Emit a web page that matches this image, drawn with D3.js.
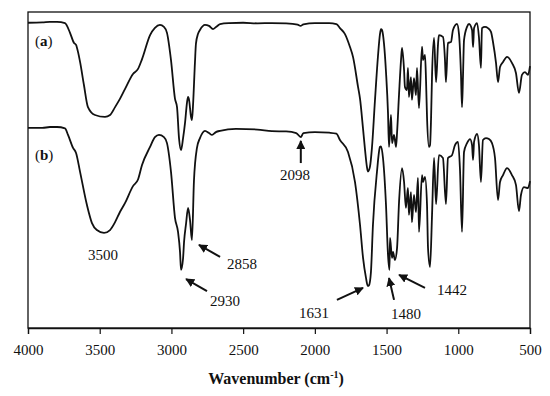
<!DOCTYPE html>
<html>
<head>
<meta charset="utf-8">
<script src="https://cdn.jsdelivr.net/npm/d3@7"></script>
<style>
  body { margin: 0; background: #fff; }
  svg text { font-family: "Liberation Serif", "DejaVu Serif", serif; fill: #111; }
</style>
</head>
<body>
<div id="chart"></div>
<script>
const W = 550, H = 396;
const margin = {top: 12, right: 20, bottom: 68, left: 28};

// wavenumber (cm-1), transmittance (arbitrary, 0-100 over plot height)
const spectrumA = [
  [4000, 96.6], [3900, 96.7], [3847, 96.9], [3798, 96.9], [3742, 96.5], [3707, 93.4],
  [3679, 90.2], [3665, 89.6], [3651, 87.3], [3637, 84.2], [3610, 76.9], [3582, 69.9],
  [3533, 67.4], [3463, 66.8], [3428, 67.4], [3393, 69.9], [3359, 72.5], [3324, 75.6],
  [3268, 80.4], [3233, 82.0], [3205, 85.1], [3149, 92.7], [3115, 95.0], [3080, 95.9],
  [3052, 95.3], [3031, 93.4], [3003, 84.8], [2975, 72.5], [2961, 69.9], [2947, 60.0],
  [2933, 56.3], [2919, 60.0], [2905, 65.0], [2891, 71.5], [2884, 73.1], [2877, 72.2],
  [2864, 67.0], [2857, 65.8], [2850, 70.0], [2836, 84.0], [2829, 90.0], [2815, 93.0],
  [2801, 94.3], [2766, 95.9], [2738, 95.6], [2710, 94.6], [2680, 95.6], [2661, 96.2],
  [2600, 96.5], [2500, 96.6], [2400, 96.4], [2300, 96.5], [2200, 96.4], [2120, 96.0],
  [2100, 95.6], [2080, 96.1], [2000, 96.5], [1900, 96.5], [1850, 96.2], [1825, 94.9],
  [1790, 93.0], [1755, 88.9], [1734, 85.8], [1699, 76.3], [1685, 72.5], [1664, 63.0],
  [1650, 56.3], [1637, 51.0], [1630, 49.5], [1616, 51.0], [1602, 57.0], [1581, 72.0],
  [1560, 86.0], [1546, 93.0], [1539, 94.6], [1532, 94.3], [1518, 90.0], [1504, 81.0],
  [1490, 68.0], [1483, 57.3], [1469, 67.4], [1462, 58.5], [1448, 61.1], [1434, 57.3],
  [1427, 61.7], [1413, 74.0], [1399, 85.0], [1392, 88.6], [1378, 81.6], [1372, 76.3],
  [1358, 75.3], [1351, 82.3], [1344, 73.1], [1330, 79.4], [1323, 72.2], [1309, 79.1],
  [1295, 73.7], [1288, 82.3], [1274, 69.6], [1253, 89.0], [1246, 84.8], [1232, 86.4],
  [1225, 78.5], [1218, 66.8], [1204, 57.3], [1197, 57.9], [1190, 66.0], [1183, 80.0],
  [1169, 91.8], [1155, 77.8], [1141, 90.0], [1135, 92.7], [1107, 92.1], [1093, 85.0],
  [1086, 77.8], [1072, 90.2], [1051, 90.5], [1037, 94.3], [1009, 96.2], [995, 93.0],
  [981, 80.0], [974, 69.9], [967, 80.0], [960, 91.1], [939, 95.3], [925, 96.2],
  [904, 94.3], [897, 88.9], [890, 94.9], [869, 96.5], [856, 92.1], [842, 82.3],
  [835, 94.9], [814, 95.3], [793, 94.9], [772, 93.7], [758, 90.5], [737, 83.9],
  [723, 77.8], [709, 82.6], [688, 84.2], [660, 85.8], [626, 83.9], [598, 80.7],
  [577, 74.4], [556, 80.1], [535, 81.0], [514, 80.1], [500, 82.9]
];

const spectrumB = [
  [4000, 63.3], [3900, 63.3], [3847, 63.6], [3798, 63.6], [3742, 63.2], [3721, 61.1],
  [3686, 57.0], [3665, 55.4], [3637, 49.4], [3589, 38.9], [3554, 33.2], [3520, 31.0],
  [3470, 30.1], [3428, 31.0], [3393, 33.5], [3359, 36.7], [3324, 39.5], [3268, 44.9],
  [3233, 47.0], [3205, 51.6], [3149, 57.3], [3115, 60.4], [3087, 61.1], [3052, 60.4],
  [3031, 58.5], [3003, 49.4], [2975, 34.8], [2954, 30.4], [2940, 24.0], [2933, 18.4],
  [2919, 22.0], [2912, 27.2], [2898, 33.0], [2884, 38.0], [2870, 34.0], [2857, 27.8],
  [2843, 46.5], [2822, 57.0], [2801, 60.1], [2766, 62.4], [2738, 61.7], [2717, 61.1],
  [2690, 62.0], [2661, 62.4], [2550, 63.0], [2400, 62.8], [2300, 62.3], [2200, 62.2],
  [2130, 61.7], [2098, 60.4], [2080, 61.7], [2000, 62.0], [1900, 61.8], [1850, 61.5],
  [1825, 59.5], [1769, 55.7], [1720, 46.2], [1685, 32.6], [1664, 22.2], [1644, 16.0],
  [1631, 13.3], [1623, 13.5], [1609, 17.7], [1595, 32.6], [1567, 49.4], [1546, 57.3],
  [1539, 57.5], [1525, 53.8], [1504, 38.9], [1490, 23.1], [1480, 18.4], [1476, 28.5],
  [1462, 22.2], [1455, 24.1], [1442, 21.5], [1427, 25.3], [1413, 39.9], [1392, 50.6],
  [1378, 46.2], [1365, 38.0], [1351, 44.3], [1344, 35.8], [1330, 43.0], [1323, 33.5],
  [1309, 42.1], [1295, 36.7], [1281, 47.5], [1274, 30.4], [1253, 48.4], [1246, 46.2],
  [1232, 47.8], [1218, 38.9], [1211, 25.3], [1197, 19.3], [1183, 35.8], [1169, 53.8],
  [1155, 39.2], [1135, 54.7], [1107, 53.8], [1086, 39.2], [1072, 53.8], [1044, 54.7],
  [1023, 57.9], [1002, 58.9], [988, 50.0], [974, 30.4], [960, 55.7], [939, 58.5],
  [918, 59.8], [904, 57.9], [897, 53.2], [890, 58.9], [869, 61.4], [856, 57.9],
  [842, 46.2], [828, 59.5], [807, 60.1], [786, 59.8], [765, 58.5], [744, 53.8],
  [723, 40.5], [709, 46.2], [688, 48.4], [660, 50.6], [626, 48.4], [598, 45.3],
  [577, 37.0], [563, 42.1], [542, 44.6], [514, 44.3], [500, 46.5]
];

const xTicks = [4000, 3500, 3000, 2500, 2000, 1500, 1000, 500];

// trace tags: text, wavenumber, transmittance
const traceLabels = [
  {text: "a", wn: 3951, t: 89.2},
  {text: "b", wn: 3951, t: 53.2}
];

// peak annotations: label position, arrow tail and arrow tip (wn, T)
const peakLabels = [
  {text: "3500", wn: 3477, t: 21.5, arrow: null},
  {text: "2930", wn: 2627, t: 7.0, arrow: [[2752, 11.7], [2898, 15.5]]},
  {text: "2858", wn: 2508, t: 18.7, arrow: [[2661, 22.5], [2808, 26.3]]},
  {text: "2098", wn: 2139, t: 46.8, arrow: [[2098, 52.2], [2098, 59.2]]},
  {text: "1631", wn: 2006, t: 3.2, arrow: [[1846, 8.9], [1664, 12.7]]},
  {text: "1480", wn: 1365, t: 2.8, arrow: [[1448, 8.9], [1483, 15.8]]},
  {text: "1442", wn: 1044, t: 10.4, arrow: [[1232, 12.7], [1413, 16.8]]}
];

const svg = d3.select("#chart").append("svg")
  .attr("width", W).attr("height", H);

const x = d3.scaleLinear().domain([4000, 500]).range([margin.left, W - margin.right]);
const y = d3.scaleLinear().domain([0, 100]).range([H - margin.bottom, margin.top]);

svg.append("defs").append("marker")
  .attr("id", "head")
  .attr("viewBox", "0 0 10 10")
  .attr("refX", 9).attr("refY", 5)
  .attr("markerWidth", 9).attr("markerHeight", 9)
  .attr("markerUnits", "userSpaceOnUse")
  .attr("orient", "auto")
  .append("path").attr("d", "M0,0 L10,5 L0,10 Z").attr("fill", "#111");

// frame
svg.append("rect")
  .attr("x", x(4000)).attr("y", y(100))
  .attr("width", x(500) - x(4000)).attr("height", y(0) - y(100))
  .attr("fill", "none").attr("stroke", "#111").attr("stroke-width", 1.3);

const xAxis = svg.append("g")
  .attr("transform", `translate(0,${y(0)})`)
  .call(d3.axisBottom(x).tickValues(xTicks).tickSize(6).tickPadding(10).tickFormat(d3.format("d")));
xAxis.select(".domain").attr("stroke", "#111").attr("stroke-width", 1.3);
xAxis.selectAll(".tick line").attr("stroke", "#111").attr("stroke-width", 1.2);
xAxis.selectAll(".tick text")
  .style("font-family", "Liberation Serif, serif")
  .style("font-size", "15px").attr("fill", "#111");

const line = d3.line()
  .x(d => x(d[0]))
  .y(d => y(d[1]))
  .curve(d3.curveMonotoneX);

[spectrumA, spectrumB].forEach(s => {
  svg.append("path")
    .datum(s)
    .attr("d", line)
    .attr("fill", "none")
    .attr("stroke", "#111")
    .attr("stroke-width", 1.8)
    .attr("stroke-linejoin", "round");
});

traceLabels.forEach(l => {
  const t = svg.append("text")
    .attr("x", x(l.wn)).attr("y", y(l.t))
    .style("font-size", "15px");
  t.append("tspan").text("(");
  t.append("tspan").style("font-weight", "bold").text(l.text);
  t.append("tspan").text(")");
});

peakLabels.forEach(p => {
  svg.append("text")
    .attr("x", x(p.wn)).attr("y", y(p.t))
    .attr("text-anchor", "middle")
    .style("font-size", "15px")
    .text(p.text);
  if (p.arrow) {
    svg.append("line")
      .attr("x1", x(p.arrow[0][0])).attr("y1", y(p.arrow[0][1]))
      .attr("x2", x(p.arrow[1][0])).attr("y2", y(p.arrow[1][1]))
      .attr("stroke", "#111").attr("stroke-width", 2)
      .attr("marker-end", "url(#head)");
  }
});

const title = svg.append("text")
  .attr("x", (x(4000) + x(500)) / 2 - 3)
  .attr("y", H - 12)
  .attr("text-anchor", "middle")
  .style("font-size", "16px")
  .style("font-weight", "bold");
title.append("tspan").text("Wavenumber (cm");
title.append("tspan").attr("dy", -6).style("font-size", "10px").text("-1");
title.append("tspan").attr("dy", 6).text(")");
</script>
</body>
</html>
